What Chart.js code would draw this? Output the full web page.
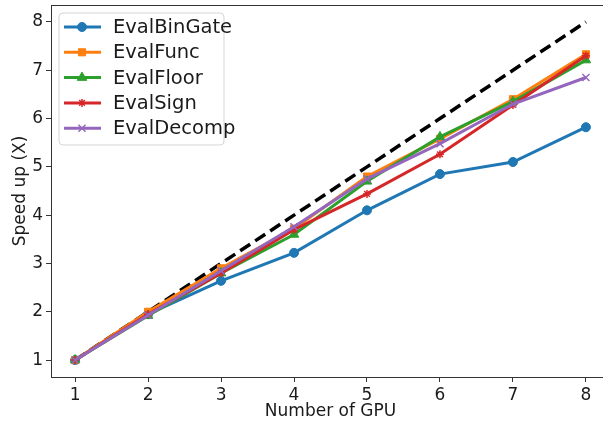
<!DOCTYPE html>
<html>
<head>
<meta charset="utf-8">
<script src="https://cdn.jsdelivr.net/npm/chart.js@4/dist/chart.umd.min.js"></script>
<style>
  html, body { margin: 0; padding: 0; background: #fff; overflow: hidden; }
  /* el grafico original esta recortado por la derecha, por eso el contenedor es mas ancho */
  #wrap { width: 610px; height: 422px; position: relative; }
</style>
</head>
<body>
<div id="wrap"><canvas id="speedChart"></canvas></div>
<script>
// numero de GPUs (eje x)
const gpus = [1, 2, 3, 4, 5, 6, 7, 8];
const xTicks = [1, 2, 3, 4, 5, 6, 7, 8];
const yTicks = [1, 2, 3, 4, 5, 6, 7, 8];

// speedup de cada operacion
const evalBinGate = [1.0, 1.95, 2.64, 3.22, 4.10, 4.85, 5.10, 5.82];
const evalFunc    = [1.0, 2.00, 2.90, 3.72, 4.80, 5.58, 6.40, 7.33];
const evalFloor   = [1.0, 1.92, 2.80, 3.60, 4.70, 5.62, 6.35, 7.21];
const evalSign    = [1.0, 1.95, 2.80, 3.70, 4.44, 5.26, 6.28, 7.30];
const evalDecomp  = [1.0, 1.93, 2.85, 3.76, 4.75, 5.48, 6.30, 6.85];
const ideal       = [1, 2, 3, 4, 5, 6, 7, 8];

const seriesNames = ['EvalBinGate', 'EvalFunc', 'EvalFloor', 'EvalSign', 'EvalDecomp'];
const seriesData = [evalBinGate, evalFunc, evalFloor, evalSign, evalDecomp];
const colors = ['#1f77b4', '#ff7f0e', '#2ca02c', '#d62728', '#9467bd'];
const markers = ['circle', 'rect', 'triangle', 'star', 'crossRot'];
const markerSizes = [4.5, 5, 5.5, 4, 5];

const FONT = 'DejaVu Sans';

function toPoints(arr){
    return gpus.map((g, i) => ({x: g, y: arr[i]}));
}
function markerBorder(i){
    return (markers[i] === 'star' || markers[i] === 'crossRot') ? 1.5 : 1;
}

const datasets = seriesData.map((arr, i) => ({
    label: seriesNames[i],
    data: toPoints(arr),
    borderColor: colors[i],
    backgroundColor: colors[i],
    borderWidth: 3,
    pointStyle: markers[i],
    pointRadius: markerSizes[i],
    pointBorderWidth: markerBorder(i),
    pointBorderColor: colors[i],
    pointBackgroundColor: colors[i],
    tension: 0,
    order: 5 - i
}));

// linea ideal punteada, va por debajo
datasets.push({
    label: 'ideal',
    data: toPoints(ideal),
    borderColor: '#000',
    borderWidth: 3.5,
    borderDash: [12, 6],
    pointRadius: 0,
    tension: 0,
    order: 10
});

// leyenda dentro del area del grafico (como matplotlib)
const insideLegend = {
    id: 'insideLegend',
    afterDraw(chart){
        const ctx = chart.ctx;
        const x0 = 59, y0 = 13, w = 165, h = 132;
        ctx.save();
        ctx.beginPath();
        ctx.roundRect(x0, y0, w, h, 4);
        ctx.fillStyle = 'rgba(255,255,255,0.8)';
        ctx.fill();
        ctx.strokeStyle = '#d5d5d5';
        ctx.lineWidth = 1;
        ctx.stroke();
        ctx.font = `19.5px "${FONT}"`;
        ctx.textBaseline = 'middle';
        seriesNames.forEach((name, i) => {
            const cy = 27 + i * 25.3;
            ctx.strokeStyle = colors[i];
            ctx.lineWidth = 3;
            ctx.beginPath();
            ctx.moveTo(64, cy);
            ctx.lineTo(101, cy);
            ctx.stroke();
            //drawPoint usa el fill/stroke actual del contexto
            ctx.fillStyle = colors[i];
            ctx.lineWidth = markerBorder(i);
            Chart.helpers.drawPoint(ctx, {
                pointStyle: markers[i],
                radius: markerSizes[i],
                borderWidth: markerBorder(i),
                rotation: 0
            }, 82, cy);
            ctx.fillStyle = '#1a1a1a';
            ctx.fillText(name, 113, cy + 1);
        });
        ctx.restore();
    }
};

const ctx = document.getElementById('speedChart').getContext('2d');
new Chart(ctx, {
    type: 'line',
    data: { datasets },
    options: {
        responsive: true,
        maintainAspectRatio: false,
        animation: false,
        layout: { autoPadding: false, padding: { top: 5, right: 0, left: 0, bottom: 0 } },
        plugins: {
            legend: { display: false },
            tooltip: { enabled: false }
        },
        scales: {
            x: {
                type: 'linear',
                min: 0.67,
                max: 8.33,
                afterBuildTicks: s => { s.ticks = xTicks.map(v => ({value: v})); },
                afterFit: s => { s.height = 45; s.paddingLeft = 0; s.paddingRight = 0; },
                ticks: { color: '#1a1a1a', font: { family: FONT, size: 17 }, padding: 3 },
                grid: { display: true, drawOnChartArea: false, drawTicks: true, tickLength: 5, color: '#333' },
                border: { display: true, color: '#333', width: 1 },
                title: { display: true, text: 'Number of GPU', color: '#1a1a1a', font: { family: FONT, size: 17 }, padding: { top: 0, bottom: 0 } }
            },
            y: {
                type: 'linear',
                min: 0.65,
                max: 8.35,
                afterBuildTicks: s => { s.ticks = yTicks.map(v => ({value: v})); },
                afterFit: s => { s.width = 51; s.paddingTop = 0; s.paddingBottom = 0; },
                ticks: { color: '#1a1a1a', font: { family: FONT, size: 17 }, padding: 3 },
                grid: { display: true, drawOnChartArea: false, drawTicks: true, tickLength: 5, color: '#333' },
                border: { display: true, color: '#333', width: 1 },
                title: { display: true, text: 'Speed up (X)', color: '#1a1a1a', font: { family: FONT, size: 17 }, padding: { top: 10, bottom: 0 } }
            }
        }
    },
    plugins: [insideLegend, {
        id: 'frame',
        afterDraw(chart){
            // cierre de la caja (arriba y derecha)
            const a = chart.chartArea, c = chart.ctx;
            c.save();
            c.strokeStyle = '#333';
            c.lineWidth = 1;
            c.strokeRect(a.left + 0.5, a.top + 0.5, a.right - a.left - 1, a.bottom - a.top);
            c.restore();
        }
    }]
});
</script>
</body>
</html>
